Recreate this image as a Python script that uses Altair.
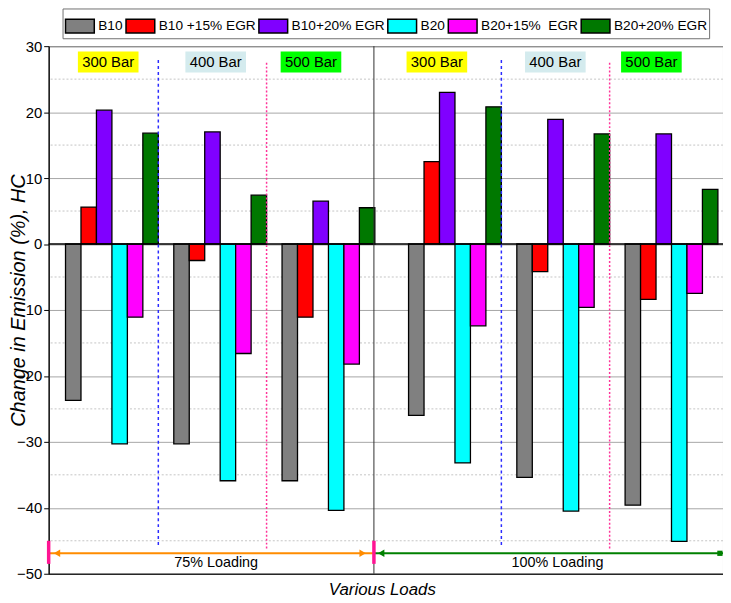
import altair as alt
import pandas as pd

# ---- data ----
series = ["B10", "B10 +15% EGR", "B10+20% EGR", "B20", "B20+15%\u00a0 EGR", "B20+20% EGR"]
colors = ["#808080", "#ff0000", "#8000ff", "#00ffff", "#ff00ff", "#007800"]
loads = ["75% Loading", "100% Loading"]
pressures = ["300 Bar", "400 Bar", "500 Bar"]
pressure_colors = ["#ffff00", "#d4ebee", "#00ff00"]

# order of groups: 75% (300, 400, 500), 100% (300, 400, 500)
b10 = [-23.7, -30.3, -35.9, -26.0, -35.4, -39.6]
b10_15 = [5.6, -2.5, -11.1, 12.5, -4.2, -8.4]
b10_20 = [20.3, 17.0, 6.5, 23.0, 18.9, 16.7]
b20 = [-30.3, -35.9, -40.4, -33.2, -40.5, -45.1]
b20_15 = [-11.1, -16.6, -18.2, -12.4, -9.6, -7.5]
b20_20 = [16.8, 7.4, 5.5, 20.8, 16.7, 8.3]
values = [b10, b10_15, b10_20, b20, b20_15, b20_20]

# layout of the x axis in "bar slots"
x_max = 43.6
load_start = [1.09, 23.27]
group_step = 7
midline = 21.03
label_x = [3.85, 10.8, 16.96, 25.1, 32.76, 38.97]
label_y = 27.6
minor_grid = [25, 15, 5, -5, -15, -25, -35, -45]

# ---- tables ----
rows = []
for li in range(len(loads)):
    for pi in range(len(pressures)):
        g = li * len(pressures) + pi
        for si, s in enumerate(series):
            x0 = load_start[li] + group_step * pi + si
            rows.append({"x": x0, "x2": x0 + 1, "v": values[si][g], "base": 0,
                         "series": s, "load": loads[li], "pressure": pressures[pi]})
bars_df = pd.DataFrame(rows)

div_rows = []
for li in range(len(loads)):
    div_rows.append({"x": load_start[li] + 6.0, "y": 27.9, "y2": -46.0, "kind": "blue"})
    div_rows.append({"x": load_start[li] + group_step + 6.0, "y": 27.5, "y2": -46.3, "kind": "pink"})
div_df = pd.DataFrame(div_rows)

lab_rows = []
for li in range(len(loads)):
    for pi, p in enumerate(pressures):
        cx = label_x[li * len(pressures) + pi]
        lab_rows.append({"x": cx - 1.96, "x2": cx + 1.96, "cx": cx,
                         "y": label_y - 1.58, "y2": label_y + 1.58, "cy": label_y,
                         "text": p, "fill": pressure_colors[pi]})
lab_df = pd.DataFrame(lab_rows)

arrow_y = -46.9
arrow_df = pd.DataFrame([
    {"x": 0, "x2": midline, "y": arrow_y, "color": "#ff8c00"},
    {"x": midline, "x2": x_max, "y": arrow_y, "color": "#008000"},
])
head_df = pd.DataFrame([
    {"x": 0.54, "y": arrow_y, "shape": "triangle-left", "color": "#ff8c00", "size": 55},
    {"x": 20.3, "y": arrow_y, "shape": "triangle-right", "color": "#ff8c00", "size": 55},
    {"x": 21.5, "y": arrow_y, "shape": "triangle-left", "color": "#008000", "size": 55},
    {"x": 43.4, "y": arrow_y, "shape": "square", "color": "#008000", "size": 28},
])
tick_df = pd.DataFrame([{"x": 0, "y": -45.0, "y2": -48.5}, {"x": midline, "y": -45.0, "y2": -48.5}])
load_text_df = pd.DataFrame([{"x": 10.83, "y": -48.3, "text": loads[0]},
                             {"x": 32.9, "y": -48.3, "text": loads[1]}])
minor_df = pd.DataFrame({"y": minor_grid})

FONT = "Liberation Sans"
xscale = alt.Scale(domain=[0, x_max], nice=False, zero=False)
yscale = alt.Scale(domain=[-50, 30], nice=False, zero=False)

x_axis = alt.Axis(labels=False, ticks=False, grid=False, domainColor="black",
                  title="Various Loads", titleFont=FONT, titleFontSize=17,
                  titleFontStyle="italic", titleFontWeight="normal", titleColor="black",
                  titlePadding=8, titleX=336)
y_axis = alt.Axis(values=list(range(-50, 31, 10)), labelFont=FONT, labelFontSize=15,
                  labelColor="black", labelPadding=2, tickSize=5, tickColor="black",
                  domainColor="black", gridColor="#a6a6a6", gridWidth=1,
                  title="Change in Emission (%), HC", titleFont=FONT, titleFontSize=20,
                  titleFontStyle="italic", titleFontWeight="normal", titleColor="black",
                  titleX=-30, titleY=256, titleAngle=270, titleAlign="center",
                  titleBaseline="middle")


def X(f):
    return alt.X(f, type="quantitative", scale=xscale, axis=x_axis)


def Y(f):
    return alt.Y(f, type="quantitative", scale=yscale, axis=y_axis)


minor = alt.Chart(minor_df).mark_rule(color="#c4c4c4", strokeDash=[2, 2], strokeWidth=1).encode(
    y=Y("y"))

bars = alt.Chart(bars_df).mark_bar(stroke="black", strokeWidth=1.3, opacity=1).encode(
    x=X("x"), x2="x2:Q", y=Y("v"), y2="base:Q",
    color=alt.Color("series:N", scale=alt.Scale(domain=series, range=colors),
                    legend=alt.Legend(
                        title=None, orient="none", legendX=14, legendY=-38,
                        direction="horizontal", columns=6,
                        symbolType="M-1,-0.48H1V0.48H-1Z", symbolSize=841,
                        symbolStrokeColor="black", symbolStrokeWidth=1.5, symbolOpacity=1,
                        labelFont=FONT, labelFontSize=13.8, labelColor="black",
                        labelOffset=3, columnPadding=0, padding=2,
                        fillColor="white", strokeColor="#707070")),
)

zero = alt.Chart(pd.DataFrame({"y": [0]})).mark_rule(color="black", strokeWidth=1.5).encode(y=Y("y"))
mid = alt.Chart(pd.DataFrame({"x": [midline]})).mark_rule(color="#303030", strokeWidth=1).encode(x=X("x"))

blue_div = alt.Chart(div_df[div_df.kind == "blue"]).mark_rule(
    color="#2b2bff", strokeWidth=1.5, strokeDash=[3, 3]).encode(x=X("x"), y=Y("y"), y2="y2:Q")
pink_div = alt.Chart(div_df[div_df.kind == "pink"]).mark_rule(
    color="#ff3399", strokeWidth=1.5, strokeDash=[2, 2]).encode(x=X("x"), y=Y("y"), y2="y2:Q")

boxes = alt.Chart(lab_df).mark_rect(opacity=1).encode(
    x=X("x"), x2="x2:Q", y=Y("y"), y2="y2:Q", color=alt.Color("fill:N", scale=None))
box_text = alt.Chart(lab_df).mark_text(font=FONT, fontSize=15, color="black", baseline="middle").encode(
    x=X("cx"), y=Y("cy"), text="text:N")

arrows = alt.Chart(arrow_df).mark_rule(strokeWidth=2).encode(
    x=X("x"), x2="x2:Q", y=Y("y"), color=alt.Color("color:N", scale=None))
heads = alt.Chart(head_df).mark_point(filled=True, opacity=1).encode(
    x=X("x"), y=Y("y"),
    shape=alt.Shape("shape:N", scale=None), color=alt.Color("color:N", scale=None),
    size=alt.Size("size:Q", scale=None))
ticks = alt.Chart(tick_df).mark_rule(color="#ff1493", strokeWidth=3.5).encode(
    x=X("x"), y=Y("y"), y2="y2:Q")
load_text = alt.Chart(load_text_df).mark_text(font=FONT, fontSize=14.5, color="black", baseline="middle").encode(
    x=X("x"), y=Y("y"), text="text:N")

chart = alt.layer(
    minor, bars, zero, mid, blue_div, pink_div, boxes, box_text, arrows, ticks, heads, load_text
).properties(
    width=680, height=532,
    autosize=alt.AutoSizeParams(type="none"),
    padding={"left": 41, "top": 36, "right": 0, "bottom": 26},
    background="white",
).configure_view(stroke="black", strokeWidth=1)

chart.save("out.html", embed_options={"renderer": "svg", "actions": False})
